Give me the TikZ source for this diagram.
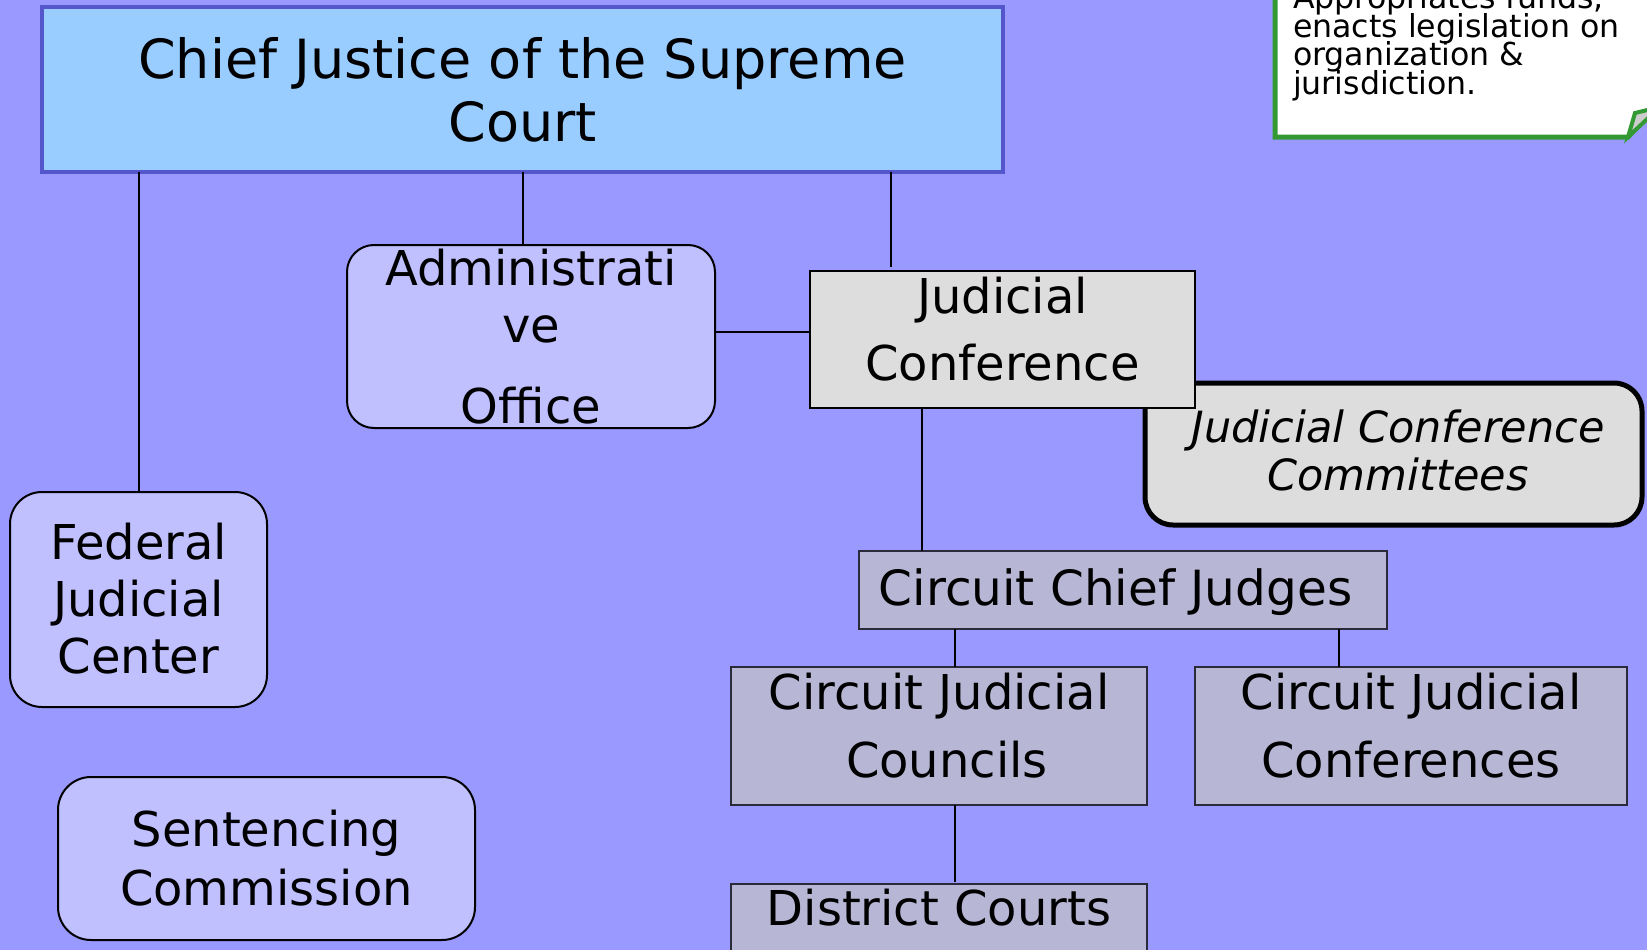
\documentclass[tikz,border=0pt]{standalone}
\usepackage{fontspec}
\setmainfont{DejaVu Sans}
\newcommand\mytightlines{\lineskiplimit=-100pt\relax\lineskip=0pt\relax}
\definecolor{bg}{HTML}{9999FF}
\definecolor{chieffill}{HTML}{99CCFF}
\definecolor{chiefdraw}{HTML}{5555CC}
\definecolor{lav}{HTML}{C0C0FF}
\definecolor{grayfill}{HTML}{DDDDDD}
\definecolor{circfill}{HTML}{B7B7D5}
\definecolor{circdraw}{HTML}{2A2A3A}
\definecolor{calgreen}{HTML}{339933}
\definecolor{foldgray}{HTML}{CCCCCC}
\begin{document}
\begin{tikzpicture}[x=1pt,y=-1pt,
  boxbase/.style={rectangle, inner sep=0pt, outer sep=0pt},
  chiefbox/.style={boxbase, fill=chieffill, draw=chiefdraw, line width=3.5pt},
  lavbox/.style={boxbase, fill=lav, draw=black, line width=2pt},
  graybox/.style={boxbase, fill=grayfill, draw=black, line width=2.2pt},
  combox/.style={boxbase, fill=grayfill, draw=black, line width=5pt, rounded corners=28pt},
  circbox/.style={boxbase, fill=circfill, draw=circdraw, line width=1.8pt},
  txt/.style={inner sep=0pt, outer sep=0pt, anchor=base, align=center},
  conn/.style={draw=black, line width=2pt}
]
\useasboundingbox (0,0) rectangle (1647,950);
\clip (0,0) rectangle (1647,950);
\fill[bg] (0,0) rectangle (1647,950);

% boxes
\node[chiefbox, minimum width=961pt, minimum height=165pt] (chief) at (522.5,89.5) {};
\node[lavbox, rounded corners=27pt, minimum width=368pt, minimum height=183pt] (admin) at (531,336.5) {};
\node[combox, minimum width=497pt, minimum height=142pt] (comm) at (1393.5,454) {};
\node[graybox, minimum width=385pt, minimum height=137pt] (jc) at (1002.5,339.5) {};
\node[lavbox, rounded corners=32pt, minimum width=257pt, minimum height=215pt] (fjc) at (138.5,599.5) {};
\node[lavbox, rounded corners=33pt, minimum width=417pt, minimum height=163pt] (sent) at (266.5,858.5) {};
\node[circbox, minimum width=528pt, minimum height=78pt] (ccj) at (1123,590) {};
\node[circbox, minimum width=416pt, minimum height=138pt] (councils) at (939,736) {};
\node[circbox, minimum width=432pt, minimum height=138pt] (confs) at (1411,736) {};
\node[circbox, minimum width=416pt, minimum height=92pt] (district) at (939,930) {};

% connectors
\draw[conn] (fjc.north |- chief.south) -- (fjc.north);
\draw[conn] (chief.south) -- (chief.south |- admin.north);
\draw[conn] ([xshift=81pt]jc.north west |- chief.south) -- ([xshift=81pt,yshift=4pt]jc.north west);
\draw[conn] ([yshift=4.5pt]admin.east) -- ([yshift=4.5pt]admin.east -| jc.west);
\draw[conn] ([xshift=63pt]ccj.north west |- jc.south) -- ([xshift=63pt]ccj.north west);
\draw[conn] ([xshift=16pt]councils.north |- ccj.south) -- ([xshift=16pt]councils.north);
\draw[conn] ([xshift=-72pt]confs.north |- ccj.south) -- ([xshift=-72pt]confs.north);
\draw[conn] ([xshift=16pt]district.north |- councils.south) -- ([xshift=16pt,yshift=2pt]district.north);

% texts (base anchor = baseline of the last line)
\node[txt, font=\fontsize{54}{63}\selectfont] (chief-t) at (522.5,141) {Chief Justice of the Supreme\\Court};
\node[txt, font=\fontsize{48}{57}\selectfont] (admin-t) at (531,423) {Administrati\\ve\\[24pt]Office};
\node[txt, font=\fontsize{48}{67}\selectfont] (jc-t) at (1002.5,380) {Judicial\\Conference};
\node[txt, font=\fontsize{43}{48}\selectfont\itshape] (comm-t) at (1398,490) {Judicial Conference\\Committees};
\node[txt, font=\fontsize{48}{57}\selectfont] (fjc-t) at (138.5,673) {Federal\\Judicial\\Center};
\node[txt, font=\fontsize{48}{59}\selectfont] (sent-t) at (266.5,905) {Sentencing\\Commission};
\node[txt, font=\fontsize{48.5}{57}\selectfont] (ccj-t) at (1115.6,605) {Circuit Chief Judges};
\node[txt, font=\fontsize{48}{68}\selectfont] (councils-t) at (939,777) {Circuit Judicial\\\hspace*{16pt}Councils};
\node[txt, font=\fontsize{48}{68}\selectfont] (confs-t) at (1411,777) {Circuit Judicial\\Conferences};
\node[txt, font=\fontsize{48}{57}\selectfont] (district-t) at (939,925) {District Courts};

% callout
\draw[calgreen, line width=5pt, fill=white] (1275,-20) -- (1275,137) -- (1628,137) -- (1660,100) -- (1660,-20) -- cycle;
\draw[calgreen, line width=4pt, fill=foldgray, line join=miter] (1628,137) -- (1635,113) -- (1660,107) -- cycle;
\node[inner sep=0pt, outer sep=0pt, anchor=base west, align=left, font=\fontsize{31.6}{28.5}\selectfont\mytightlines] (call-t) at (1293,94) {Appropriates funds,\\enacts legislation on\\organization \&\\jurisdiction.};
\end{tikzpicture}
\end{document}
